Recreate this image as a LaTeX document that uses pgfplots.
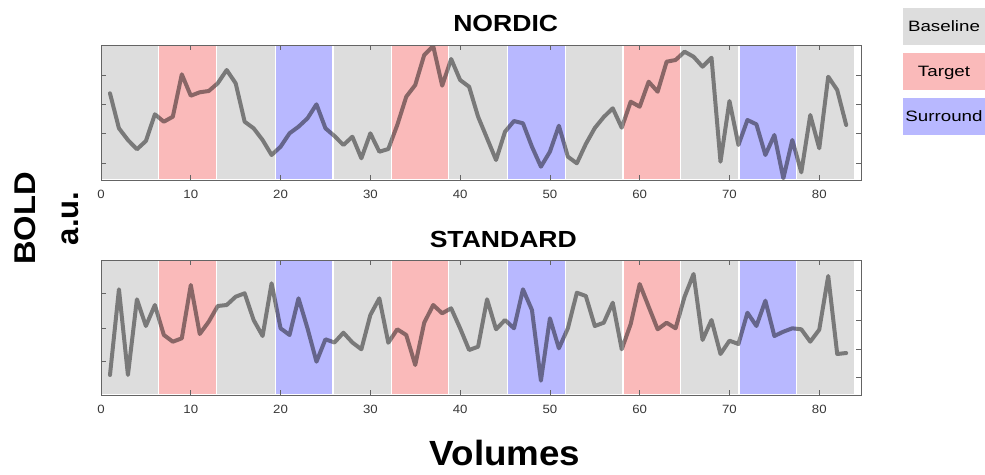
\documentclass[border=0pt]{standalone}
\usepackage{pgfplots}
\pgfplotsset{compat=1.18}
\usepackage{pgfplotstable}
\usepackage{fontspec}
\setmainfont{Liberation Sans}
\usepackage{graphicx}
\definecolor{bggrey}{RGB}{221,221,221}
\definecolor{bgred}{RGB}{250,186,186}
\definecolor{bgblue}{RGB}{184,184,255}
\definecolor{framec}{RGB}{100,100,100}
\definecolor{tickc}{RGB}{55,55,55}

\pgfplotstableread{
v y
1 86.7
2 51.7
3 40
4 30.7
5 39
6 65.7
7 58.3
8 63.3
9 105.7
10 84.3
11 87.7
12 89
13 96.7
14 110
15 96.7
16 58.3
17 51.7
18 40
19 25
20 33.3
21 46.7
22 53.3
23 61.7
24 75.7
25 51.7
26 44
27 35
28 43.3
29 21.7
30 46.7
31 28.3
32 31
33 55
34 83.3
35 95
36 125
37 134
38 94.3
39 121
40 100
41 93.3
42 63.3
43 41.7
44 20
45 48.3
46 59
47 56.7
48 33.3
49 13.3
50 28.3
51 54.3
52 23.3
53 16.7
54 36
55 52
56 63
57 71.7
58 52.3
59 78.3
60 73.3
61 98.3
62 88.3
63 118.3
64 120
65 128.3
66 123.3
67 113.3
68 122.3
69 18.3
70 79
71 35
72 60
73 55.7
74 25
75 45
76 1.7
77 40
78 7.7
79 65
80 31.7
81 103.3
82 90
83 55
}\nordic

\pgfplotstableread{
v y
1 20
2 105.7
3 20
4 95.7
5 69
6 90
7 60
8 53.3
9 56.7
10 110
11 61
12 73.3
13 89
14 90
15 98.3
16 101.7
17 75
18 59
19 111.7
20 66.7
21 60
22 96.7
23 66.7
24 33.3
25 55.7
26 52.5
27 62.3
28 52.5
29 45.7
30 80
31 96.7
32 52.3
33 65.7
34 60
35 30
36 72.3
37 90
38 81.7
39 86.7
40 66.7
41 45
42 48.3
43 95.7
44 65.7
45 75
46 66.7
47 105.7
48 85
49 14.3
50 76.7
51 46.7
52 66.7
53 102.3
54 99
55 69
56 72.3
57 92.3
58 45.7
59 71
60 111
61 88.3
62 65.7
63 72.3
64 66.7
65 98.3
66 121
67 55
68 75
69 41
70 54.3
71 51
72 82.3
73 69
74 94.3
75 59
76 63.3
77 66.7
78 65.7
79 53.3
80 65.3
81 119
82 41
83 42
}\standard

\newcommand{\blk}[3]{\addplot[fill=#3, draw=white, line width=1.2pt, forget plot] coordinates {(#1,0) (#1,135) (#2,135) (#2,0)} \closedcycle;}
\newcommand{\blocks}{%
\blk{0}{6.4}{bggrey}\blk{6.4}{12.9}{bgred}\blk{12.9}{19.45}{bggrey}\blk{19.45}{25.85}{bgblue}%
\blk{25.85}{32.35}{bggrey}\blk{32.35}{38.7}{bgred}\blk{38.7}{45.25}{bggrey}\blk{45.25}{51.7}{bgblue}%
\blk{51.7}{58.15}{bggrey}\blk{58.15}{64.55}{bgred}\blk{64.55}{71.05}{bggrey}\blk{71.05}{77.45}{bgblue}%
\blk{77.45}{83.9}{bggrey}}

\pgfplotsset{myax/.style={scale only axis, width=760pt, height=135pt,
  xmin=0, xmax=84.65, ymin=0, ymax=135, axis on top,
  xtick={0,10,...,80}, tick align=inside, major tick length=5pt,
  every tick/.style={framec, line width=0.8pt},
  axis line style={framec, line width=0.9pt},
  xticklabel style={font=\fontsize{12}{12}\selectfont, text=tickc, yshift=-7pt},
  /pgf/number format/assume math mode=true,
  xticklabel={\scalebox{1.1}[1]{\pgfmathprintnumber{\tick}}},
  yticklabel=\empty}}

\begin{document}
\begin{tikzpicture}
\useasboundingbox (0,0) rectangle (985pt,-474pt);
% NORDIC
\begin{axis}[myax, at={(101pt,-180pt)}, anchor=south west, ytick={17,46.3,75.7,105}]
\blocks
\addplot[black, opacity=0.45, line width=4pt, line join=round, line cap=round] table[x=v,y=y] {\nordic};
\end{axis}
% STANDARD
\begin{axis}[myax, at={(101pt,-395pt)}, anchor=south west, ytick={33.3,66.7,101.7}, ytick pos=left]
\blocks
\addplot[black, opacity=0.45, line width=4pt, line join=round, line cap=round] table[x=v,y=y] {\standard};
\end{axis}
\begin{axis}[scale only axis, width=760pt, height=135pt, at={(101pt,-395pt)}, anchor=south west,
  xmin=0, xmax=84.65, ymin=0, ymax=135, hide x axis, axis y line*=right,
  ytick={17.3,46,75,104.3}, yticklabel=\empty, tick align=inside, major tick length=5pt,
  every tick/.style={framec, line width=0.8pt}, axis line style={framec, line width=0.9pt}]
\end{axis}
% titles
\node[anchor=base, inner sep=0] at (505.7pt,-31.7pt) {\scalebox{1.14}[1]{\fontsize{23.3}{24}\selectfont\bfseries NORDIC}};
\node[anchor=base, inner sep=0] at (503.3pt,-247pt) {\scalebox{1.14}[1]{\fontsize{23.3}{24}\selectfont\bfseries STANDARD}};
\node[anchor=base, inner sep=0] at (505pt,-465pt) {\scalebox{1.05}[1]{\fontsize{35}{36}\selectfont\bfseries Volumes}};
\node[anchor=base, inner sep=0, rotate=90] at (35pt,-218.3pt) {\scalebox{1.09}[1]{\fontsize{30}{30}\selectfont\bfseries BOLD}};
\node[anchor=base, inner sep=0, rotate=90] at (78.3pt,-218.3pt) {\fontsize{31}{31}\selectfont\bfseries a.u.};
% legend
\fill[bggrey] (903pt,-8.3pt) rectangle (985pt,-45pt);
\fill[bgred] (903pt,-53.3pt) rectangle (985pt,-90pt);
\fill[bgblue] (903pt,-98.3pt) rectangle (985pt,-135pt);
\node[anchor=base, inner sep=0] at (944pt,-31.7pt) {\scalebox{1.25}[1]{\fontsize{15}{15}\selectfont Baseline}};
\node[anchor=base, inner sep=0] at (944pt,-76.7pt) {\scalebox{1.25}[1]{\fontsize{15}{15}\selectfont Target}};
\node[anchor=base, inner sep=0] at (944pt,-121.7pt) {\scalebox{1.25}[1]{\fontsize{15}{15}\selectfont Surround}};
\end{tikzpicture}
\end{document}
